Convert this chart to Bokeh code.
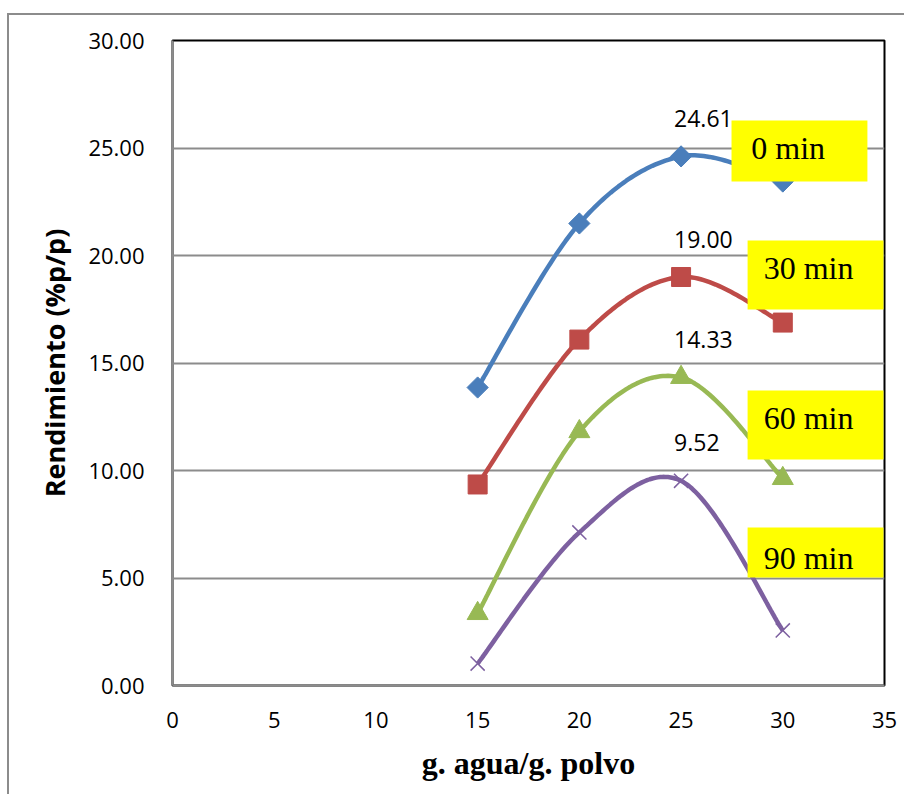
import numpy as np
from bokeh.plotting import figure
from bokeh.models import Range1d, FixedTicker, NumeralTickFormatter, ColumnDataSource
from bokeh.core.properties import value
from bokeh.embed import file_html
from bokeh.resources import INLINE

# ---- data ----
x_vals = [15, 20, 25, 30]
y_0min = [13.86, 21.49, 24.61, 23.44]
y_30min = [9.35, 16.09, 19.00, 16.88]
y_60min = [3.35, 11.81, 14.33, 9.63]
y_90min = [1.02, 7.12, 9.52, 2.56]
series_names = ["0 min", "30 min", "60 min", "90 min"]
x_ticks = [0, 5, 10, 15, 20, 25, 30, 35]
y_ticks = [0, 5, 10, 15, 20, 25, 30]
label_index = 2  # data label shown on the point at x=25

colors = ["#4A7EBB", "#BE4B48", "#98B954", "#7D60A0"]
markers = ["square", "square", "triangle", "x"]
marker_angles = [np.pi / 4, 0, 0, 0]
marker_sizes = [15, 19, 21, 20]


def smooth(xs, ys, n=40):
    """Excel-like smoothed line: cubic Bezier with Catmull-Rom tangents (1/6)."""
    P = np.column_stack([xs, ys]).astype(float)
    m = len(P)
    out = []
    for i in range(m - 1):
        p0 = P[i - 1] if i > 0 else P[i]
        p1 = P[i]
        p2 = P[i + 1]
        p3 = P[i + 2] if i + 2 < m else P[i + 1]
        c1 = p1 + (p2 - p0) / 6.0
        c2 = p2 - (p3 - p1) / 6.0
        t = np.linspace(0, 1, n)[:, None]
        seg = ((1 - t) ** 3) * p1 + 3 * ((1 - t) ** 2) * t * c1 + 3 * (1 - t) * t ** 2 * c2 + t ** 3 * p2
        out.append(seg if i == 0 else seg[1:])
    arr = np.vstack(out)
    return arr[:, 0], arr[:, 1]


p = figure(width=897, height=781, output_backend="svg", toolbar_location=None,
           x_range=Range1d(0, 35), y_range=Range1d(0, 30),
           min_border_left=163, min_border_right=22, min_border_top=25, min_border_bottom=111)
p.styles = {"margin-left": "7px", "margin-top": "13px",
            "border-left": "2px solid #8c8c8c", "border-top": "2px solid #8c8c8c"}

p.outline_line_color = "#000000"
p.outline_line_width = 2
p.background_fill_color = "white"
p.border_fill_color = "white"

p.xgrid.grid_line_color = None
p.ygrid.grid_line_color = "#8c8c8c"
p.ygrid.grid_line_width = 2
p.ygrid.ticker = FixedTicker(ticks=y_ticks)

p.xaxis.ticker = FixedTicker(ticks=x_ticks)
p.yaxis.ticker = FixedTicker(ticks=y_ticks)
p.yaxis.formatter = NumeralTickFormatter(format="0.00")

for ax in (p.xaxis, p.yaxis):
    ax.major_tick_line_color = None
    ax.minor_tick_line_color = None
    ax.axis_line_color = "#8c8c8c"
    ax.axis_line_width = 2
    ax.major_label_text_font = "Open Sans"
    ax.major_label_text_font_size = "22px"
    ax.major_label_text_color = "#000000"

p.yaxis.major_label_standoff = 22
p.xaxis.major_label_standoff = 20

p.yaxis.axis_label = "Rendimiento (%p/p)"
p.yaxis.axis_label_text_font = "Open Sans"
p.yaxis.axis_label_text_font_style = "bold"
p.yaxis.axis_label_text_font_size = "27px"
p.yaxis.axis_label_text_color = "#000000"
p.yaxis.axis_label_standoff = 12

p.xaxis.axis_label = "g. agua/g. polvo"
p.xaxis.axis_label_text_font = "Liberation Serif"
p.xaxis.axis_label_text_font_style = "bold"
p.xaxis.axis_label_text_font_size = "32px"
p.xaxis.axis_label_text_color = "#000000"
p.xaxis.axis_label_standoff = 14

all_y = [y_0min, y_30min, y_60min, y_90min]
for ys, c, mk, ma, ms in zip(all_y, colors, markers, marker_angles, marker_sizes):
    sx, sy = smooth(x_vals, ys)
    p.line(sx, sy, line_color=c, line_width=4.5)
    if mk == "x":
        p.scatter(x_vals, ys, marker=mk, size=ms, line_color=c, line_width=1.5)
    else:
        p.scatter(x_vals, ys, marker=mk, size=ms, angle=ma, fill_color=c, line_color=c)

# data labels
lab_src = ColumnDataSource(dict(
    x=[x_vals[label_index]] * 4,
    y=[ys[label_index] for ys in all_y],
    t=["%.2f" % ys[label_index] for ys in all_y],
))
p.text(x="x", y="y", text="t", source=lab_src, x_offset=-7, y_offset=-38,
       text_align="left", text_baseline="alphabetic",
       text_font=value("Open Sans"), text_font_size="23px", text_color="#000000")

# yellow label boxes (layout positions in data units)
box_left = [27.48, 28.27, 28.27, 28.27]
box_right = [34.16, 34.95, 34.95, 34.95]
box_top = [26.28, 20.70, 13.72, 7.35]
box_bottom = [23.44, 17.49, 10.51, 5.02]
p.quad(left=box_left, right=box_right, top=box_top, bottom=box_bottom,
       fill_color="#FFFF00", line_color=None)
txt_x = [28.45, 29.06, 29.06, 29.06]
txt_y = [24.98, 19.40, 12.42, 5.95]
p.text(x=txt_x, y=txt_y, text=series_names, text_align="left", text_baseline="alphabetic",
       text_font=value("Liberation Serif"), text_font_size="32px", text_color="#000000")

open("out.html", "w").write(file_html(p, INLINE))
